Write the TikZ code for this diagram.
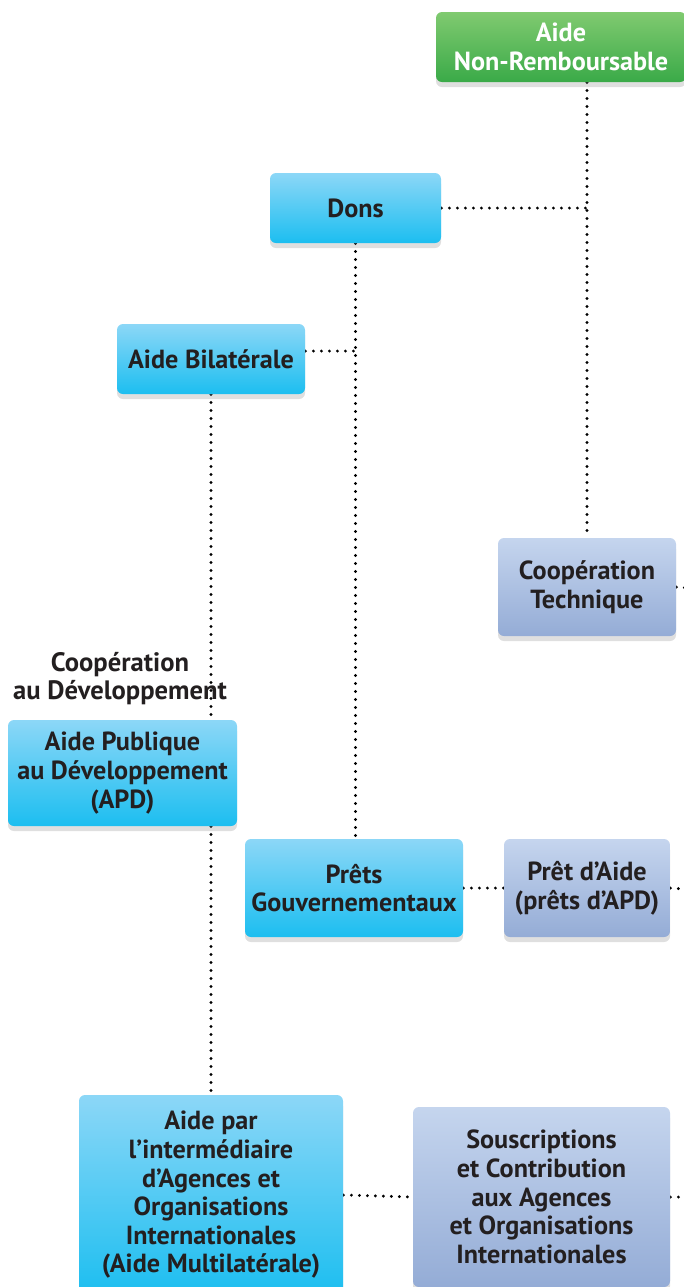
\documentclass[tikz,border=0pt]{standalone}
\usepackage{fontspec}
\setmainfont{PT Sans}
\usetikzlibrary{shadows,backgrounds}

\definecolor{txtdark}{RGB}{35,31,32}
\definecolor{greentop}{RGB}{128,202,112}
\definecolor{greenbot}{RGB}{58,170,72}
\definecolor{bluetop}{RGB}{140,215,247}
\definecolor{bluebot}{RGB}{28,190,240}
\definecolor{greytop}{RGB}{197,213,238}
\definecolor{greybot}{RGB}{148,172,214}

\begin{document}
\begin{tikzpicture}[x=0.5pt,y=0.5pt,yscale=-1,
  box/.style={rounded corners=3pt, align=center, inner sep=0pt,
    font=\fontsize{13.1}{14.3}\selectfont\bfseries, text=txtdark,
    drop shadow={opacity=0.25, shadow xshift=0pt, shadow yshift=-2.5pt}},
  greenbox/.style={box, top color=greentop, bottom color=greenbot, text=white},
  bluebox/.style={box, top color=bluetop, bottom color=bluebot},
  greybox/.style={box, top color=greytop, bottom color=greybot},
  link/.style={draw=black, line width=1.6pt, dash pattern=on 0pt off 4pt, line cap=round}]
\useasboundingbox (0,0) rectangle (684,1287);
\clip (0,0) rectangle (684,1287);

%Shape: Green box
\node[greenbox, minimum width=125pt, minimum height=35pt] (nonremb) at (561,47) {Aide\\Non-Remboursable};
%Shape: Blue boxes
\node[bluebox, minimum width=85.5pt, minimum height=35pt] (dons) at (355.5,208) {Dons};
\node[bluebox, minimum width=94pt, minimum height=35pt] (bilat) at (211,359) {Aide Bilatérale};
\node[bluebox, minimum width=114.5pt, minimum height=53pt] (apd) at (122.5,773) {Aide Publique\\au Développement\\(APD)};
\node[bluebox, minimum width=109pt, minimum height=49pt] (prets) at (354,888) {Prêts\\Gouvernementaux};
\node[bluebox, minimum width=132pt, minimum height=100pt] (multi) at (211,1195) {Aide par\\l’intermédiaire\\d’Agences et\\Organisations\\Internationales\\(Aide Multilatérale)};
%Shape: Grey boxes
\node[greybox, minimum width=89pt, minimum height=49pt] (cooptech) at (587,587) {Coopération\\Technique};
\node[greybox, minimum width=83pt, minimum height=49pt] (pretaide) at (587,888) {Prêt d’Aide\\(prêts d’APD)};
\node[greybox, minimum width=128.5pt, minimum height=90pt] (souscr) at (541.5,1197) {Souscriptions\\et Contribution\\aux Agences\\et Organisations\\Internationales};

% Text Node
\node[align=center, font=\fontsize{13.3}{14}\selectfont\bfseries, text=txtdark] (coopdev) at (120,679) {Coopération\\au Développement};

%Straight Lines: free ends at the right edge
\coordinate (ctout) at (700,589);
\coordinate (paout) at (700,890);
\coordinate (soout) at (700,1197);
\coordinate (bilatjoin) at (358,351);

\begin{scope}[on background layer]
\draw[link] (nonremb.south -| cooptech.north) -- (cooptech.north);
\draw[link] (dons.east) -- (dons.east -| cooptech.north);
\draw[link] (dons.south) -- (dons.south |- prets.north);
\draw[link] (bilat.east |- bilatjoin) -- (bilatjoin);
\draw[link] (bilat.south) -- (multi.north);
\draw[link] (prets.east) -- (pretaide.west);
\draw[link] (multi.east) -- (souscr.west);
\draw[link] (cooptech.east) -- (ctout);
\draw[link] (pretaide.east) -- (paout);
\draw[link] (souscr.east) -- (soout);
\end{scope}

\end{tikzpicture}
\end{document}
